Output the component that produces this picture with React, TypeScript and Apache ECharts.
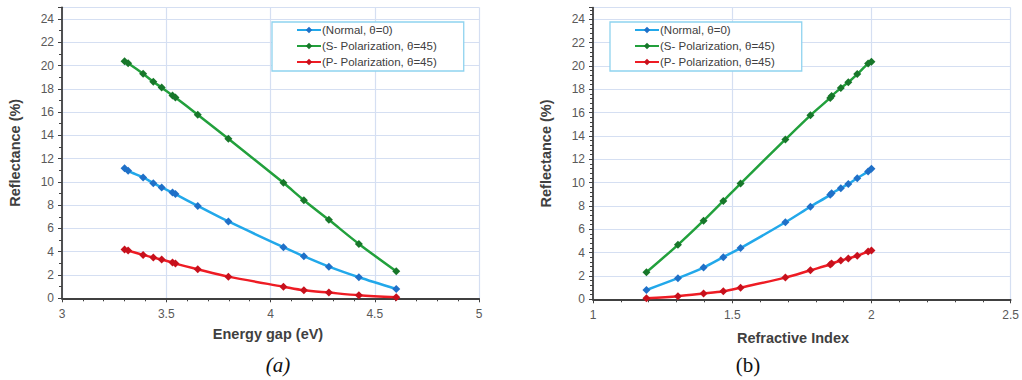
import React, { useEffect, useRef } from "react";
import * as echarts from "echarts";

const seriesNames = ["(Normal, θ=0)", "(S- Polarization, θ=45)", "(P- Polarization, θ=45)"];
const energyGap = [3.3, 3.317, 3.389, 3.438, 3.478, 3.53, 3.544, 3.651, 3.798, 4.062, 4.16, 4.28, 4.424, 4.603];
const refractiveIndex = [2.0, 1.988, 1.949, 1.917, 1.89, 1.857, 1.852, 1.781, 1.691, 1.53, 1.468, 1.397, 1.305, 1.192];
const normal = [11.18, 10.95, 10.38, 9.89, 9.52, 9.09, 8.95, 7.94, 6.6, 4.39, 3.61, 2.72, 1.81, 0.8];
const sPol = [20.36, 20.2, 19.3, 18.6, 18.1, 17.43, 17.26, 15.77, 13.7, 9.92, 8.43, 6.74, 4.67, 2.32];
const pPol = [4.19, 4.1, 3.73, 3.5, 3.33, 3.07, 2.98, 2.49, 1.86, 1.0, 0.69, 0.49, 0.26, 0.09];
const lineColors = ["#22a8ea", "#22a03c", "#ee1c24"];
const markColors = ["#1f70c8", "#17772a", "#c8101c"];

const FONT = "Liberation Sans";

export default function App() {
  const ref = useRef<HTMLDivElement>(null);
  useEffect(() => {
    document.body.style.margin = "0";
    const chart = echarts.init(ref.current!, null, { renderer: "svg" });
    const values = [normal, sPol, pPol];
    const mkSeries = (xs: number[], gi: number) =>
      values.map((ys, i) => ({
        name: seriesNames[i],
        type: "line",
        xAxisIndex: gi,
        yAxisIndex: gi,
        data: xs.map((x, k) => [x, ys[k]]),
        smooth: 0.3,
        symbol: "diamond",
        symbolSize: 8,
        lineStyle: { color: lineColors[i], width: 2.5 },
        itemStyle: { color: markColors[i] },
        z: 3 + (2 - i),
      }));
    const axisLine = { show: true, onZero: false, lineStyle: { color: "#404040", width: 1.8 } };
    const splitLine = { show: true, lineStyle: { color: "#d5dff2", width: 1.2 } };
    const labelStyle = { color: "#595959", fontSize: 12, fontFamily: FONT };
    const xAxis = (min: number, max: number) => ({
      type: "value",
      min,
      max,
      interval: 0.5,
      axisLine,
      axisTick: { show: true, length: 4, lineStyle: { color: "#404040" } },
      minorTick: { show: true, splitNumber: 5, length: 3, lineStyle: { color: "#404040" } },
      splitLine,
      axisLabel: { ...labelStyle, margin: 10 },
    });
    const yAxis = (minorSplit: number) => ({
      type: "value",
      min: 0,
      max: 25,
      interval: 2,
      axisLine,
      axisTick: { show: true, length: 4, lineStyle: { color: "#404040" } },
      minorTick: { show: true, splitNumber: minorSplit, length: 3, lineStyle: { color: "#404040" } },
      splitLine,
      axisLabel: { ...labelStyle, margin: 8, showMaxLabel: false },
      name: "Reflectance (%)",
      nameLocation: "middle",
      nameGap: 40,
      nameTextStyle: { fontFamily: FONT, fontWeight: "bold", fontSize: 14.5, color: "#404040" },
    });
    const legend = (left: number) => ({
      left,
      top: 22,
      orient: "vertical",
      data: seriesNames,
      itemWidth: 24,
      itemHeight: 8,
      itemGap: 4,
      padding: [2, 27, 3, 24],
      borderColor: "#8fd3ef",
      borderWidth: 1.3,
      backgroundColor: "#ffffff",
      textStyle: { fontFamily: FONT, fontSize: 11.5, color: "#404040", padding: [0, 0, 0, -4] },
    });
    chart.setOption({
      animation: false,
      backgroundColor: "#ffffff",
      grid: [
        { left: 62, top: 7.3, width: 417, height: 291, containLabel: false },
        { left: 593, top: 7.6, width: 421, height: 291.7, containLabel: false },
      ],
      xAxis: [{ ...xAxis(3, 5), gridIndex: 0 }, { ...xAxis(1, 2.5), gridIndex: 1 }],
      yAxis: [{ ...yAxis(2), gridIndex: 0 }, { ...yAxis(5), gridIndex: 1 }],
      legend: [legend(272), legend(610)],
      series: [...mkSeries(energyGap, 0), ...mkSeries(refractiveIndex, 1)],
      graphic: [
        { type: "text", x: 268, y: 334, style: { text: "Energy gap (eV)", fontFamily: FONT, fontWeight: "bold", fontSize: 14.5, fill: "#404040", align: "center", verticalAlign: "middle" } },
        { type: "text", x: 793, y: 338, style: { text: "Refractive Index", fontFamily: FONT, fontWeight: "bold", fontSize: 14.5, fill: "#404040", align: "center", verticalAlign: "middle" } },
        { type: "text", x: 278, y: 365, style: { text: "(a)", fontFamily: "Liberation Serif", fontStyle: "italic", fontSize: 21, fill: "#111111", align: "center", verticalAlign: "middle" } },
        { type: "text", x: 748, y: 365, style: { text: "(b)", fontFamily: "Liberation Serif", fontSize: 21, fill: "#111111", align: "center", verticalAlign: "middle" } },
      ],
    });
    return () => chart.dispose();
  }, []);
  return <div ref={ref} style={{ position: "absolute", left: 0, top: 0, width: 1022, height: 380 }} />;
}
